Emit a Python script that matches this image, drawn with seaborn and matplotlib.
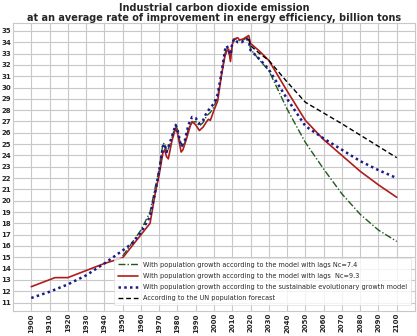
import matplotlib
matplotlib.use("Agg")
import matplotlib.pyplot as plt
import seaborn as sns
import pandas as pd

# ---- data ----
red_years = [1900, 1913, 1920, 1940, 1950, 1965, 1968, 1970, 1972, 1973, 1974, 1975, 1977, 1979, 1980,
             1982, 1983, 1985, 1987, 1988, 1990, 1992, 1994, 1996, 1997, 1998, 2000, 2002, 2004, 2006,
             2007, 2008, 2009, 2010, 2011, 2013, 2014, 2016, 2019, 2020, 2025, 2030, 2040, 2050, 2060,
             2070, 2080, 2090, 2100]
red_vals = [12.4, 13.2, 13.2, 14.45, 14.95, 18.0, 20.8, 22.3, 24.2, 24.5, 23.9, 23.7, 25.3, 26.4, 26.0,
            24.3, 24.5, 25.5, 26.6, 27.0, 26.7, 26.2, 26.5, 27.0, 27.2, 27.1, 28.0, 28.8, 31.0, 32.8,
            33.2, 33.4, 32.3, 33.8, 34.3, 34.4, 34.2, 34.3, 34.6, 33.9, 33.2, 32.4, 29.7, 27.1, 25.4,
            24.0, 22.6, 21.4, 20.3]

blue_years = [1900, 1910, 1920, 1930, 1940, 1950, 1955, 1960, 1965, 1968, 1970, 1972, 1973, 1974, 1976,
              1979, 1980, 1982, 1984, 1986, 1988, 1990, 1992, 1994, 1996, 1998, 2000, 2002, 2004, 2006,
              2007, 2008, 2009, 2010, 2011, 2013, 2015, 2018, 2019, 2020, 2025, 2030, 2040, 2050, 2060,
              2070, 2080, 2090, 2100]
blue_vals = [11.4, 11.95, 12.6, 13.4, 14.45, 15.6, 16.2, 17.2, 18.6, 20.9, 22.6, 24.8, 25.0, 24.3, 25.2,
             26.7, 26.3, 24.8, 25.3, 26.7, 27.4, 27.3, 26.8, 27.1, 27.8, 28.2, 28.6, 29.4, 31.2, 33.3,
             33.7, 33.3, 32.9, 33.9, 34.3, 34.0, 34.0, 34.3, 34.1, 33.3, 32.5, 31.6, 29.0, 26.6, 25.5,
             24.5, 23.5, 22.7, 22.0]

green_years = [1950, 1960, 1965, 1968, 1970, 1972, 1973, 1974, 1976, 1979, 1980, 1982, 1984, 1986, 1988,
               1990, 1992, 1994, 1996, 1998, 2000, 2002, 2004, 2006, 2007, 2008, 2009, 2010, 2011, 2013,
               2015, 2018, 2019, 2020, 2025, 2030, 2040, 2050, 2060, 2070, 2080, 2090, 2100]
green_vals = [15.1, 17.4, 19.0, 21.3, 22.8, 25.0, 25.1, 24.2, 25.0, 26.7, 26.3, 24.7, 25.1, 26.4, 26.9,
              27.0, 26.6, 26.9, 27.5, 27.8, 28.3, 29.2, 31.0, 33.0, 33.5, 33.3, 32.5, 33.9, 34.3, 34.2,
              34.1, 34.4, 34.3, 33.4, 32.4, 31.5, 28.1, 25.15, 22.8, 20.6, 18.8, 17.4, 16.4]

black_years = [2019, 2020, 2025, 2030, 2040, 2050, 2060, 2070, 2080, 2090, 2100]
black_vals = [34.3, 33.7, 33.0, 32.4, 30.5, 28.7, 27.75, 26.8, 25.8, 24.8, 23.8]

labels = ["With population growth according to the model with lags Nc=7.4",
          "With population growth according to the model with lags  Nc=9.3",
          "With population growth according to the sustainable evolutionary growth model",
          "According to the UN population forecast"]
x_ticks = list(range(1900, 2101, 10))
y_ticks = list(range(11, 36))
title = ("Industrial carbon dioxide emission\n"
         "at an average rate of improvement in energy efficiency, billion tons")

# ---- plot ----
sns.set_theme(style="whitegrid")
plt.rcParams['font.family'] = ['DejaVu Sans']

fig = plt.figure(figsize=(4.17, 3.36), dpi=100)
ax = fig.add_axes([13 / 417, 1 - 311 / 336, 402 / 417, 288.5 / 336])

series = [
    (green_years, green_vals, labels[0], dict(color="#1f5a1f", linestyle=(0, (5, 1.5, 1, 1.5)), linewidth=1.0)),
    (red_years, red_vals, labels[1], dict(color="#b01c1c", linestyle="-", linewidth=1.2)),
    (blue_years, blue_vals, labels[2], dict(color="#1a1a8a", linestyle=(0, (1, 1.3)), linewidth=1.8)),
    (black_years, black_vals, labels[3], dict(color="black", linestyle=(0, (3.5, 2)), linewidth=1.0)),
]
for yrs, vals, lab, kw in series:
    df = pd.DataFrame({"year": yrs, "value": vals})
    sns.lineplot(data=df, x="year", y="value", ax=ax, label=lab, **kw)

ax.set_xlim(1890, 2110)
ax.set_ylim(10.25, 35.75)
ax.set_xticks(x_ticks)
ax.set_yticks(y_ticks)
ax.set_xticklabels([str(t) for t in x_ticks], rotation=90, fontsize=5, fontweight="bold")
ax.set_yticklabels([str(t) for t in y_ticks], fontsize=5, fontweight="bold")
ax.tick_params(length=0, pad=1.5)
ax.set_xlabel("")
ax.set_ylabel("")
ax.grid(True, color="#c8c8c8", linewidth=0.8)
for s in ax.spines.values():
    s.set_color("#c8c8c8")
    s.set_linewidth(0.8)

ax.set_title(title, fontsize=7.0, fontweight="bold", pad=1.0, linespacing=0.98)

leg = ax.legend(loc="lower right", bbox_to_anchor=(0.99, 0.02), borderaxespad=0,
                fontsize=4.7, handlelength=3.0, frameon=True, labelspacing=0.8,
                borderpad=0.6, handletextpad=0.8)
leg.get_frame().set_edgecolor("#dddddd")
leg.get_frame().set_linewidth(0.6)

fig.savefig("out.png", dpi=100)
